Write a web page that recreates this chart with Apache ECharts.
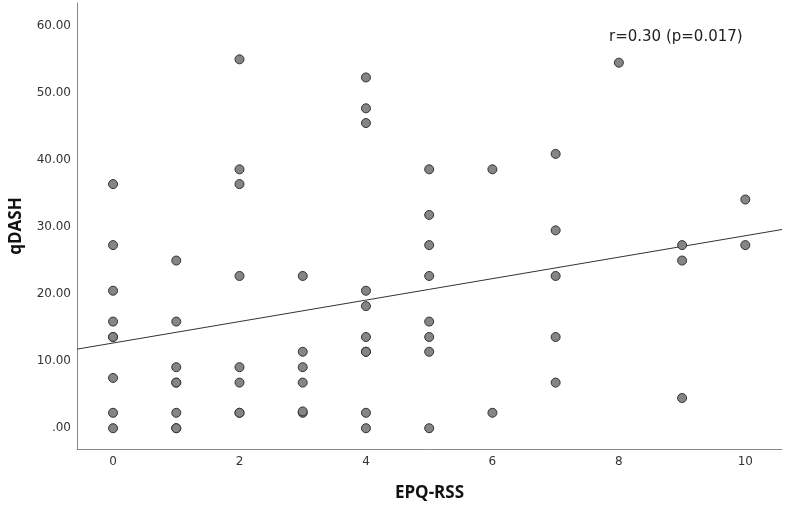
<!DOCTYPE html>
<html>
<head>
<meta charset="utf-8">
<script src="https://cdn.jsdelivr.net/npm/echarts@6/dist/echarts.min.js"></script>
<style>
  html, body { margin: 0; padding: 0; background: #fff; }
  #chart { width: 789px; height: 507px; }
</style>
</head>
<body>
<div id="chart"></div>
<script>
// EPQ-RSS scores (x) and qDASH scores (y)
const epqRss = [
  0, 0, 0, 0, 0, 0, 0, 0, 0,
  1, 1, 1, 1, 1, 1, 1, 1,
  2, 2, 2, 2, 2, 2, 2, 2,
  3, 3, 3, 3, 3, 3,
  4, 4, 4, 4, 4, 4, 4, 4, 4, 4,
  5, 5, 5, 5, 5, 5, 5, 5,
  6, 6,
  7, 7, 7, 7, 7,
  8,
  9, 9, 9,
  10, 10
]
const qDash = [
  36.4, 27.3, 20.5, 15.9, 13.6, 13.6, 7.5, 2.3, 0,
  25.0, 15.9, 9.1, 6.8, 6.8, 2.3, 0, 0,
  55.0, 38.6, 36.4, 22.7, 9.1, 6.8, 2.3, 2.3,
  22.7, 11.4, 9.1, 6.8, 2.3, 2.5,
  52.3, 47.7, 45.5, 20.5, 18.2, 13.6, 11.4, 11.4, 2.3, 0,
  38.6, 31.8, 27.3, 22.7, 15.9, 13.6, 11.4, 0,
  38.6, 2.3,
  40.9, 29.5, 22.7, 13.6, 6.8,
  54.5,
  27.3, 25.0, 4.5,
  34.1, 27.3
]
const xTicks = [0, 2, 4, 6, 8, 10]
const yTicks = [0, 10, 20, 30, 40, 50, 60]
const fitIntercept = 12.7
const fitSlope = 1.6
const note = 'r=0.30 (p=0.017)'

const xMin = -0.57, xMax = 10.58
const yMin = -3.1, yMax = 63.4

const chart = echarts.init(document.getElementById('chart'))

const points = epqRss.map((x, i) => [x, qDash[i]])
const fitLine = [xMin, xMax].map(x => [x, fitIntercept + fitSlope * x])

const option = {
  animation: false,
  backgroundColor: '#fff',
  grid: { left: 73, right: 7, top: 3, bottom: 54 },
  xAxis: {
    type: 'value',
    min: xMin,
    max: xMax,
    name: 'EPQ-RSS',
    nameLocation: 'middle',
    nameGap: 36,
    nameTextStyle: { fontFamily: 'Open Sans', fontWeight: 'bold', fontSize: 17, color: '#111' },
    axisLine: { onZero: false, lineStyle: { color: '#888', width: 1 } },
    axisTick: { show: false },
    splitLine: { show: false },
    axisLabel: {
      customValues: xTicks,
      color: '#333',
      fontFamily: 'DejaVu Sans',
      fontSize: 12,
      margin: 7
    }
  },
  yAxis: {
    type: 'value',
    min: yMin,
    max: yMax,
    name: 'qDASH',
    nameLocation: 'middle',
    nameGap: 52,
    nameRotate: 90,
    nameTextStyle: { fontFamily: 'Open Sans', fontWeight: 'bold', fontSize: 17, color: '#111' },
    axisLine: { show: true, onZero: false, lineStyle: { color: '#888', width: 1 } },
    axisTick: { show: false },
    splitLine: { show: false },
    axisLabel: {
      customValues: yTicks,
      color: '#333',
      fontFamily: 'DejaVu Sans',
      fontSize: 12,
      margin: 6,
      formatter: v => v === 0 ? '.00' : v.toFixed(2)
    }
  },
  graphic: [{
    type: 'text',
    left: 609,
    top: 30,
    style: { text: note, fontFamily: 'DejaVu Sans', fontSize: 15, fill: '#222' }
  }],
  series: [
    {
      type: 'line',
      data: fitLine,
      showSymbol: false,
      lineStyle: { color: '#333', width: 1 },
      z: 1
    },
    {
      type: 'scatter',
      data: points,
      symbolSize: 9,
      itemStyle: { color: '#858585', borderColor: '#333', borderWidth: 1, opacity: 1 },
      z: 2
    }
  ]
}

chart.setOption(option)
</script>
</body>
</html>
